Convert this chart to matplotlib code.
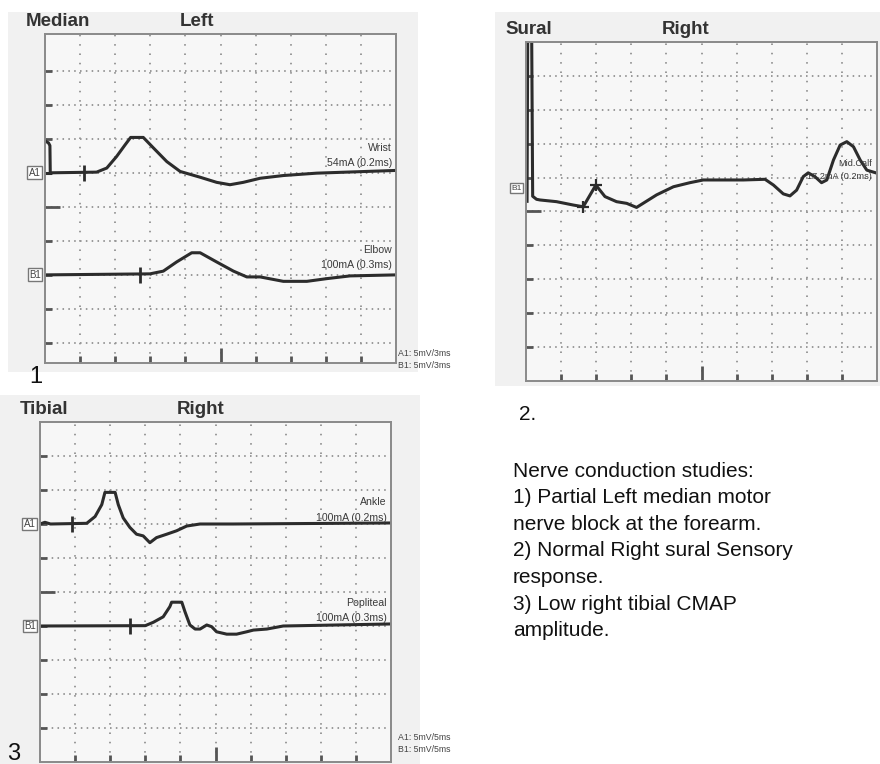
import matplotlib
matplotlib.use("Agg")
import matplotlib.pyplot as plt
from matplotlib.patches import Rectangle

plt.rcParams['font.family'] = ['Liberation Sans', 'DejaVu Sans']

# ---- data (x in divisions, dy in divisions above the channel baseline) ----
# Median, left
med_a1_x = [0.03, 0.10, 0.14, 0.15, 1.47, 1.76, 2.04, 2.28, 2.44, 2.80, 3.09, 3.47, 3.85,
            4.42, 4.89, 5.27, 5.65, 6.13, 6.79, 7.74, 10.0]
med_a1_dy = [0.92, 0.88, 0.80, 0.0, 0.02, 0.14, 0.48, 0.82, 1.04, 1.04, 0.73, 0.33, 0.04,
             -0.13, -0.28, -0.35, -0.28, -0.16, -0.08, -0.01, 0.07]
med_b1_x = [0.0, 2.99, 3.37, 3.75, 4.18, 4.42, 4.89, 5.37, 5.75, 6.13, 6.79, 7.46, 8.03, 8.69, 10.0]
med_b1_dy = [0.0, 0.03, 0.11, 0.38, 0.65, 0.65, 0.38, 0.11, -0.06, -0.06, -0.19, -0.19, -0.11, -0.03, 0.0]
med_base = [6.0, 3.0]
med_lat = [1.12, 2.71]

# Sural, right (absolute y in divisions)
sur_x = [0.03, 0.05, 0.16, 0.19, 0.30, 0.40, 0.87, 1.35, 1.63, 1.99, 2.25, 2.58, 2.87, 3.15,
         3.72, 4.20, 4.67, 5.05, 5.62, 6.19, 6.81, 7.05, 7.33, 7.52, 7.71, 7.90, 8.04, 8.23,
         8.42, 8.57, 8.76, 8.95, 9.14, 9.33, 9.52, 9.71, 10.0]
sur_y = [5.30, 10.5, 10.5, 5.45, 5.36, 5.34, 5.29, 5.19, 5.14, 5.78, 5.44, 5.29, 5.24, 5.12,
         5.49, 5.73, 5.85, 5.93, 5.93, 5.93, 5.95, 5.78, 5.52, 5.46, 5.63, 6.03, 6.14, 6.03,
         5.85, 5.93, 6.52, 6.96, 7.06, 6.91, 6.52, 6.22, 6.13]
sur_marks_x = [1.63, 1.99]
sur_marks_y = [5.14, 5.78]

# Tibial, right
tib_a1_x = [0.0, 0.14, 0.30, 1.33, 1.57, 1.76, 1.85, 2.14, 2.23, 2.37, 2.56, 2.75, 2.94, 3.13,
            3.32, 3.61, 3.89, 4.18, 4.56, 5.50, 10.0]
tib_a1_dy = [0.0, 0.05, 0.0, 0.02, 0.22, 0.57, 0.93, 0.93, 0.57, 0.18, -0.10, -0.30, -0.35, -0.55,
             -0.40, -0.30, -0.20, -0.06, 0.0, 0.0, 0.03]
tib_b1_x = [0.0, 3.00, 3.23, 3.51, 3.70, 3.75, 4.04, 4.13, 4.27, 4.42, 4.56, 4.75, 4.89, 5.03,
            5.32, 5.60, 5.89, 6.08, 6.46, 6.93, 10.0]
tib_b1_dy = [0.0, 0.01, 0.11, 0.27, 0.57, 0.70, 0.70, 0.42, 0.03, -0.09, -0.09, 0.03, -0.02, -0.17,
             -0.24, -0.24, -0.17, -0.12, -0.09, 0.0, 0.06]
tib_base = [7.0, 4.0]
tib_lat = [0.90, 2.56]

summary = ["Nerve conduction studies:",
           "1) Partial Left median motor",
           "nerve block at the forearm.",
           "2) Normal Right sural Sensory",
           "response.",
           "3) Low right tibial CMAP",
           "amplitude."]

W, H = 880, 764
TRACE = '#2c2c2c'
GRIDC = '#999999'
LW = 2.2

fig = plt.figure(figsize=(W / 100, H / 100), dpi=100)
fig.patch.set_facecolor('white')

# light grey scan backgrounds
for (x0, y0, x1, y1) in [(8, 12, 418, 372), (495, 12, 880, 386), (0, 395, 420, 764)]:
    fig.patches.append(Rectangle((x0 / W, 1 - y1 / H), (x1 - x0) / W, (y1 - y0) / H,
                                 transform=fig.transFigure, facecolor='#f1f1f1',
                                 edgecolor='none', zorder=-10))


def make_panel(left, top, right, bottom, ylim):
    ax = fig.add_axes([left / W, 1 - bottom / H, (right - left) / W, (bottom - top) / H])
    ax.set_facecolor('#f7f7f7')
    ax.set_xlim(0, 10)
    ax.set_ylim(*ylim)
    for s in ax.spines.values():
        s.set_color('#8a8a8a')
        s.set_linewidth(1.4)
    # dotted grid
    ax.hlines([1, 2, 3, 4, 5, 6, 7, 8, 9], 0, 10, colors=GRIDC, linewidth=1.4,
              linestyles=(0, (0.8, 2.2)), zorder=1)
    ax.vlines([1, 2, 3, 4, 5, 6, 7, 8, 9], *ylim, colors=GRIDC, linewidth=1.4,
              linestyles=(0, (0.8, 4.0)), zorder=1)
    # division ticks on left and bottom, longer at centre
    ax.set_yticks([1, 2, 3, 4, 6, 7, 8, 9])
    ax.set_yticks([5], minor=True)
    ax.set_xticks([1, 2, 3, 4, 6, 7, 8, 9])
    ax.set_xticks([5], minor=True)
    ax.tick_params(which='major', direction='in', length=5, width=2.0, color='#555555',
                   labelleft=False, labelbottom=False)
    ax.tick_params(which='minor', direction='in', length=11, width=2.0, color='#555555',
                   labelleft=False, labelbottom=False)
    return ax


def chan_label(ax, y, txt, size=7):
    ax.text(-0.12, y, txt, ha='right', va='center', fontsize=size, color='#444444',
            clip_on=False,
            bbox=dict(boxstyle='square,pad=0.15', fc='white', ec='#777777', lw=1.0))


def stim_label(ax, y, line1, line2, size=7.6):
    ax.text(9.88, y + 0.74, line1, ha='right', va='center', fontsize=size, color='#3a3a3a')
    ax.text(9.88, y + 0.28, line2, ha='right', va='center', fontsize=size, color='#3a3a3a')


# ---- Panel 1: Median Left ----
ax1 = make_panel(45, 34, 396, 363, (0.41, 10.08))
ax1.plot(med_a1_x, [med_base[0] + d for d in med_a1_dy], color=TRACE, lw=LW,
         solid_joinstyle='round')
ax1.plot([0.0, 0.15], [med_base[0], med_base[0]], color=TRACE, lw=LW)
ax1.plot(med_b1_x, [med_base[1] + d for d in med_b1_dy], color=TRACE, lw=LW,
         solid_joinstyle='round')
ax1.plot(med_lat, med_base, linestyle='none', marker='|', markersize=11, mew=2.0, color=TRACE)
chan_label(ax1, med_base[0], 'A1')
chan_label(ax1, med_base[1], 'B1')
stim_label(ax1, med_base[0], 'Wrist', '54mA (0.2ms)')
stim_label(ax1, med_base[1], 'Elbow', '100mA (0.3ms)')
fig.text(26 / W, 1 - 21 / H, 'Median', fontsize=13.5, fontweight='bold', color='#333333', va='center')
fig.text(180 / W, 1 - 21 / H, 'Left', fontsize=13.5, fontweight='bold', color='#333333', va='center')
fig.text(398 / W, 1 - 353 / H, 'A1: 5mV/3ms', fontsize=6.3, color='#444444', va='center')
fig.text(398 / W, 1 - 366 / H, 'B1: 5mV/3ms', fontsize=6.3, color='#444444', va='center')
fig.text(29 / W, 1 - 377 / H, '1', fontsize=17, color='#111111', va='center')

# ---- Panel 2: Sural Right ----
ax2 = make_panel(526, 42, 877, 381, (0, 10))
ax2.plot(sur_x, sur_y, color=TRACE, lw=LW, solid_joinstyle='round')
ax2.plot(sur_marks_x, sur_marks_y, linestyle='none', marker='+', markersize=8, mew=1.6,
         color=TRACE)
chan_label(ax2, 5.69, 'B1', size=6)
ax2.text(9.85, 6.43, 'Mid.Calf', ha='right', va='center', fontsize=6.6, color='#3a3a3a')
ax2.text(9.85, 6.02, '17.2mA (0.2ms)', ha='right', va='center', fontsize=6.6, color='#3a3a3a')
fig.text(505 / W, 1 - 30 / H, 'Sural', fontsize=13.5, fontweight='bold', color='#333333', va='center')
fig.text(662 / W, 1 - 30 / H, 'Right', fontsize=13.5, fontweight='bold', color='#333333', va='center')
fig.text(519 / W, 1 - 415 / H, '2.', fontsize=15, color='#111111', va='center')

# ---- Panel 3: Tibial Right ----
ax3 = make_panel(40, 422, 391, 762, (0, 10))
ax3.plot(tib_a1_x, [tib_base[0] + d for d in tib_a1_dy], color=TRACE, lw=LW,
         solid_joinstyle='round')
ax3.plot(tib_b1_x, [tib_base[1] + d for d in tib_b1_dy], color=TRACE, lw=LW,
         solid_joinstyle='round')
ax3.plot(tib_lat, tib_base, linestyle='none', marker='|', markersize=11, mew=2.0, color=TRACE)
chan_label(ax3, tib_base[0], 'A1')
chan_label(ax3, tib_base[1], 'B1')
stim_label(ax3, tib_base[0] - 0.1, 'Ankle', '100mA (0.2ms)')
stim_label(ax3, tib_base[1] - 0.05, 'Popliteal', '100mA (0.3ms)')
fig.text(20 / W, 1 - 410 / H, 'Tibial', fontsize=13.5, fontweight='bold', color='#333333', va='center')
fig.text(177 / W, 1 - 410 / H, 'Right', fontsize=13.5, fontweight='bold', color='#333333', va='center')
fig.text(398 / W, 1 - 737 / H, 'A1: 5mV/5ms', fontsize=6.3, color='#444444', va='center')
fig.text(398 / W, 1 - 750 / H, 'B1: 5mV/5ms', fontsize=6.3, color='#444444', va='center')
fig.text(7 / W, 1 - 754 / H, '3', fontsize=17, color='#111111', va='center')

# ---- summary text ----
for i, line in enumerate(summary):
    fig.text(513 / W, 1 - (471 + i * 26.6) / H, line, fontsize=15, color='#111111', va='center')

fig.savefig('out.png', dpi=100)
